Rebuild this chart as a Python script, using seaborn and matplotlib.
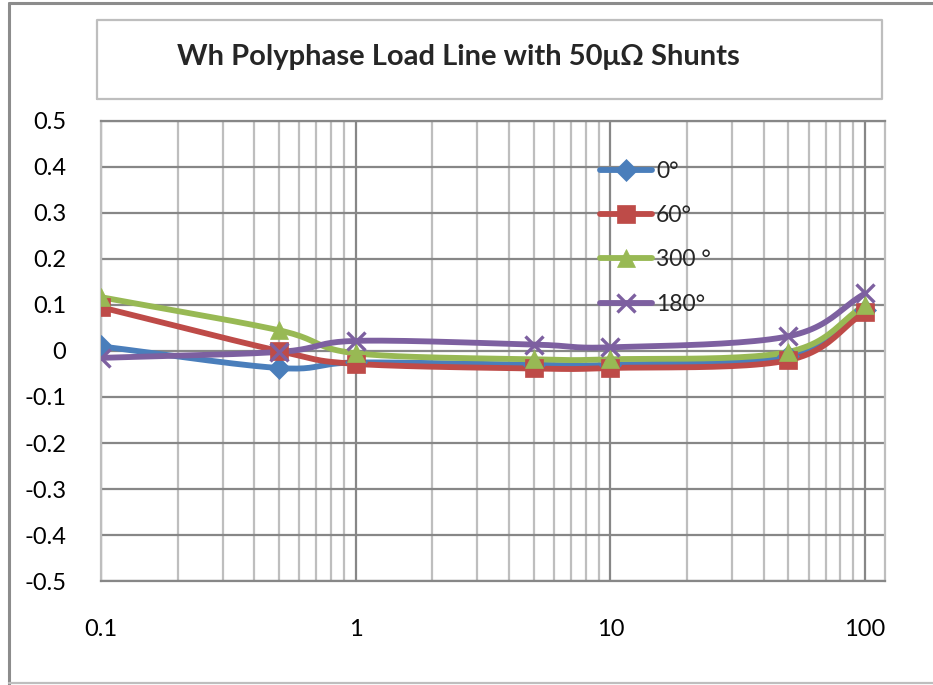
import numpy as np
import matplotlib
matplotlib.use("Agg")
import matplotlib.pyplot as plt
from matplotlib.lines import Line2D
import seaborn as sns

# Load current on log x axis, error (%) on y axis
current = [0.1, 0.5, 1, 5, 10, 50, 100]
err_0 = [0.010, -0.037, -0.025, -0.030, -0.030, -0.010, 0.090]
err_60 = [0.095, 0.000, -0.028, -0.038, -0.037, -0.020, 0.085]
err_300 = [0.117, 0.045, -0.005, -0.018, -0.018, -0.002, 0.100]
err_180 = [-0.015, -0.002, 0.022, 0.014, 0.008, 0.032, 0.125]

series_names = ["0°", "60°", "300 °", "180°"]
yticks = [-0.5, -0.4, -0.3, -0.2, -0.1, 0, 0.1, 0.2, 0.3, 0.4, 0.5]
xticks = [0.1, 1, 10, 100]
title = "Wh Polyphase Load Line with 50\u03bc\u03a9 Shunts"

colors = ["#4A7EBB", "#BE4B48", "#98B954", "#7D60A0"]
markers = ["D", "s", "^", "x"]
msizes = [11, 13, 13, 13]


def smooth_path(xs, ys, n=24):
    # Catmull-Rom path through the points (log x), only used to draw the
    # curved line like Excel's "smoothed line" option
    lx = np.log10(xs)
    ys = np.asarray(ys, dtype=float)
    px = np.concatenate([[2 * lx[0] - lx[1]], lx, [2 * lx[-1] - lx[-2]]])
    py = np.concatenate([[2 * ys[0] - ys[1]], ys, [2 * ys[-1] - ys[-2]]])
    out_x, out_y = [], []
    t = np.linspace(0, 1, n)
    for i in range(1, len(px) - 2):
        for arr, out in ((px, out_x), (py, out_y)):
            p0, p1, p2, p3 = arr[i - 1], arr[i], arr[i + 1], arr[i + 2]
            seg = 0.5 * ((2 * p1) + (-p0 + p2) * t
                         + (2 * p0 - 5 * p1 + 4 * p2 - p3) * t ** 2
                         + (-p0 + 3 * p1 - 3 * p2 + p3) * t ** 3)
            out.extend(seg if i == 1 else seg[1:])
    return 10 ** np.array(out_x), np.array(out_y)


sns.set_style("white")
plt.rcParams["font.family"] = ["Lato", "DejaVu Sans"]

fig = plt.figure(figsize=(9.33, 6.85), dpi=100)
ax = fig.add_axes([0.1083, 0.1518, 0.8403, 0.6716])

all_series = [err_0, err_60, err_300, err_180]
handles = []
for vals, name, c, m, ms in zip(all_series, series_names, colors, markers, msizes):
    sx, sy = smooth_path(current, vals)
    sns.lineplot(x=sx, y=sy, ax=ax, color=c, linewidth=4.2, sort=False,
                 estimator=None, zorder=3)
    mew = 2.4 if m == "x" else 0.5
    ax.plot(current, vals, linestyle="none", marker=m, markersize=ms,
            color=c, markeredgecolor=c, markeredgewidth=mew, zorder=4)
    handles.append(Line2D([], [], color=c, linewidth=4.2, marker=m,
                          markersize=ms, markeredgewidth=mew, label=name))

ax.set_xscale("log")
ax.set_xlim(0.1, 10 ** (2 + 20 / 255))
ax.set_ylim(-0.5, 0.5)
ax.set_yticks(yticks)
ax.set_yticklabels([f"{v:g}" for v in yticks])
ax.set_xticks(xticks)
ax.set_xticklabels(["0.1", "1", "10", "100"])
ax.xaxis.set_minor_locator(matplotlib.ticker.LogLocator(base=10, subs=np.arange(2, 10)))
ax.xaxis.set_minor_formatter(matplotlib.ticker.NullFormatter())

ax.grid(True, which="major", axis="both", color="#878787", linewidth=1.6)
ax.grid(True, which="minor", axis="x", color="#BEBEBE", linewidth=1.6)
ax.tick_params(axis="both", which="both", length=0, labelsize=17, colors="black")
ax.tick_params(axis="y", pad=25)
ax.tick_params(axis="x", pad=27)
for side, sp in ax.spines.items():
    sp.set_visible(True)
    sp.set_color("#878787" if side in ("bottom", "top") else "#BEBEBE")
    sp.set_linewidth(1.6)

fig.legend(handles=handles, loc="upper left", bbox_to_anchor=(0.633, 0.779),
           frameon=False, fontsize=16.5, handlelength=2.3, handletextpad=0.15,
           labelspacing=1.02, borderaxespad=0)

# chart border (left, top, bottom) and title box
border = dict(color="#8C8C8C", linewidth=2.2)
fig.add_artist(Line2D([0.0095, 0.0095], [0.0, 0.995], **border))
fig.add_artist(Line2D([0.0095, 1.0], [0.995, 0.995], **border))
fig.add_artist(Line2D([0.0095, 1.0], [0.0022, 0.0022], color="#BEBEBE", linewidth=1.6))
box = dict(color="#BEBEBE", linewidth=1.6)
fig.add_artist(Line2D([0.104, 0.945, 0.945, 0.104, 0.104],
                      [0.855, 0.855, 0.971, 0.971, 0.855], **box))
fig.text(0.491, 0.917, title, ha="center", va="center", fontsize=21,
         fontweight="bold")

fig.savefig("out.png", dpi=100)
